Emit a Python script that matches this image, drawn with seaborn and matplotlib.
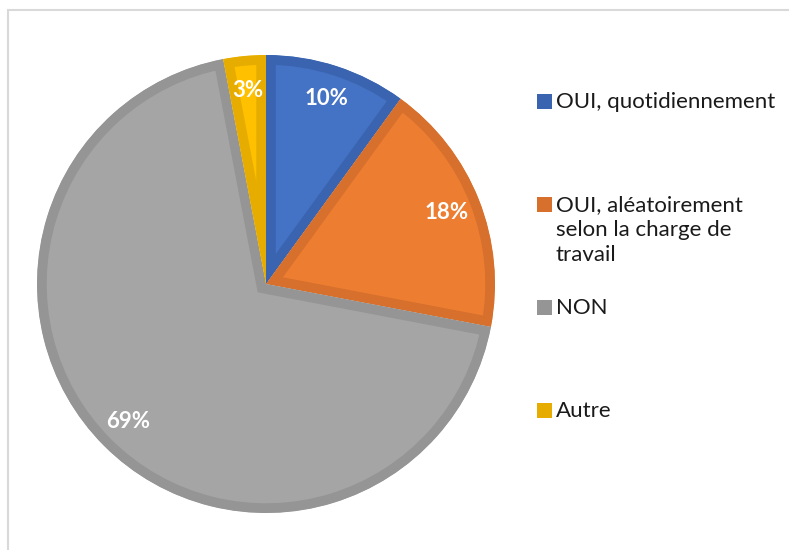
import matplotlib
matplotlib.use("Agg")
import matplotlib.pyplot as plt
import seaborn as sns
from matplotlib.lines import Line2D
from matplotlib.patches import Rectangle

labels = ["OUI, quotidiennement",
          "OUI, aléatoirement\nselon la charge de\ntravail",
          "NON",
          "Autre"]
values = [10, 18, 69, 3]
fill_colors = ["#4472C4", "#ED7D31", "#A5A5A5", "#FFC000"]
edge_colors = ["#3A64B0", "#D6702C", "#959595", "#E6AD00"]

sns.set_theme(style="white")
plt.rcParams["font.family"] = ["Lato", "DejaVu Sans"]

W, H = 789, 550
fig = plt.figure(figsize=(W / 100, H / 100), dpi=100)
fig.patch.set_facecolor("white")

# chart frame (only top and left edges visible)
fig.add_artist(Line2D([8 / W, 8 / W], [0, 1 - 10 / H], color="#D9D9D9", lw=1.5))
fig.add_artist(Line2D([8 / W, 1], [1 - 10 / H, 1 - 10 / H], color="#D9D9D9", lw=1.5))

cx, cy, r = 266, 284, 229
ax = fig.add_axes([(cx - r) / W, (H - cy - r) / H, 2 * r / W, 2 * r / H])
wedges, texts, autotexts = ax.pie(
    values, colors=fill_colors, startangle=90, counterclock=False,
    autopct="%1.0f%%", pctdistance=0.85, radius=1,
    wedgeprops=dict(linewidth=14, antialiased=True),
    textprops=dict(color="white", fontsize=16, fontweight="bold"))
# inner border: stroke clipped to the wedge itself
for w, ec in zip(wedges, edge_colors):
    w.set_edgecolor(ec)
    w.set_clip_on(True)
    w.set_clip_path(w)
ax.set_xlim(-1, 1)
ax.set_ylim(-1, 1)
ax.set_aspect("equal")
ax.axis("off")

# legend, entries top-aligned at equal spacing
for i, (lab, ec) in enumerate(zip(labels, edge_colors)):
    top = 91 + 103 * i
    fig.add_artist(Rectangle((537 / W, 1 - (top + 18) / H), 15 / W, 15 / H,
                             facecolor=ec, edgecolor="none"))
    fig.text(556 / W, 1 - (top + 1) / H, lab, ha="left", va="top",
             fontsize=16, color="#1a1a1a", linespacing=1.3)

fig.savefig("out.png", dpi=100, facecolor="white")
